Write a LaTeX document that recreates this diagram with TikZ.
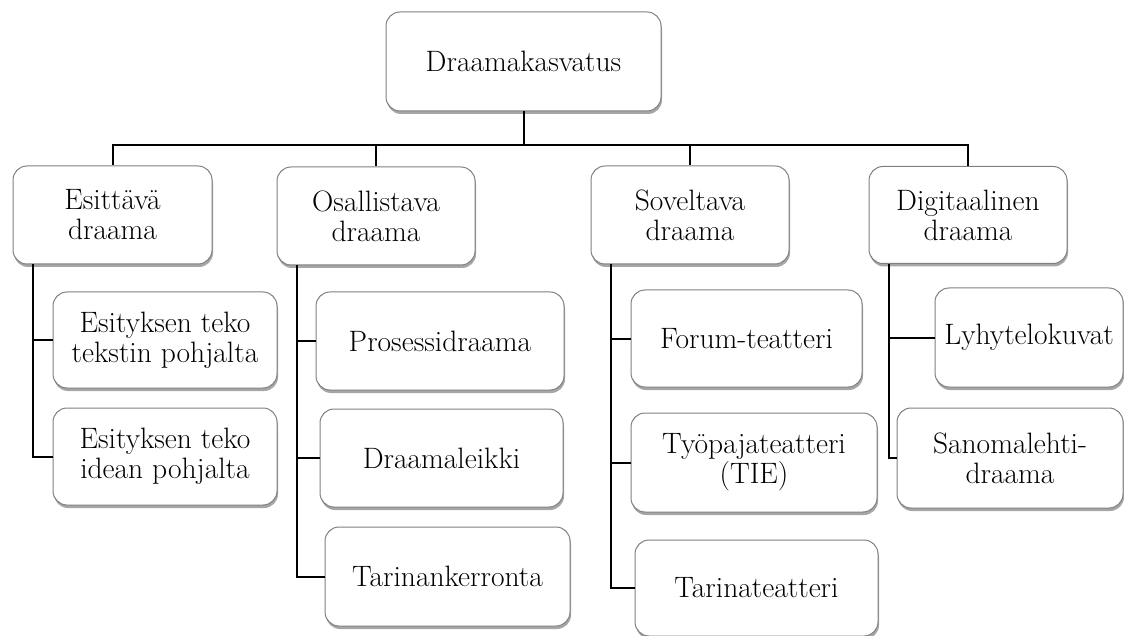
\documentclass[tikz,border=0pt]{standalone}
\usetikzlibrary{shadows}
\tikzset{
  box/.style={draw=black!50, line width=1pt, fill=white, rounded corners=14pt,
    align=center, inner sep=2pt, font=\fontsize{29.5}{30}\selectfont,
    drop shadow={shadow xshift=1pt, shadow yshift=-3pt, fill=black, opacity=0.35}},
  conn/.style={draw=black, line width=2pt}
}
\begin{document}
\begin{tikzpicture}[x=1pt,y=-1pt]
\useasboundingbox (0,0) rectangle (1124,636);
% top
\node[box, minimum width=275pt, minimum height=99pt] (top) at (523.5,61.5) {Draamakasvatus};
% level 2
\node[box, minimum width=199pt, minimum height=98pt] (e) at (112.5,215) {Esittävä\\draama};
\node[box, minimum width=198pt, minimum height=98pt] (o) at (376,216) {Osallistava\\draama};
\node[box, minimum width=198pt, minimum height=98pt] (s) at (690,215) {Soveltava\\draama};
\node[box, minimum width=198pt, minimum height=97pt] (d) at (968,215) {Digitaalinen\\draama};
% children of Esittävä
\node[box, minimum width=224pt, minimum height=96pt] (e1) at (165,340) {Esityksen teko\\tekstin pohjalta};
\node[box, minimum width=224pt, minimum height=97pt] (e2) at (165,456.5) {Esityksen teko\\idean pohjalta};
% children of Osallistava
\node[box, minimum width=248pt, minimum height=98pt] (o1) at (440,341) {Prosessidraama};
\node[box, minimum width=243pt, minimum height=98pt] (o2) at (441.5,458) {Draamaleikki};
\node[box, minimum width=245pt, minimum height=99pt] (o3) at (447.5,576.5) {Tarinankerronta};
% children of Soveltava
\node[box, minimum width=231pt, minimum height=97pt] (s1) at (746.5,338.5) {Forum-teatteri};
\node[box, minimum width=246pt, minimum height=99pt] (s2) at (754,462.5) {Työpajateatteri\\(TIE)};
\node[box, minimum width=243pt, minimum height=96pt] (s3) at (756.5,588) {Tarinateatteri};
% children of Digitaalinen
\node[box, minimum width=188pt, minimum height=99pt] (d1) at (1029,337.5) {Lyhytelokuvat};
\node[box, minimum width=226pt, minimum height=100pt] (d2) at (1010,458) {Sanomalehti-\\draama};
% connectors top
\coordinate (bus) at (523.5,145);
\draw[conn] (top.south) -- (bus);
\draw[conn] (bus) -| (e.north);
\draw[conn] (bus) -| (o.north);
\draw[conn] (bus) -| (s.north);
\draw[conn] (bus) -| (d.north);
% child connectors
\draw[conn] ([xshift=20pt]e.south west) |- (e1.west);
\draw[conn] ([xshift=20pt]e.south west) |- (e2.west);
\draw[conn] ([xshift=20pt]o.south west) |- (o1.west);
\draw[conn] ([xshift=20pt]o.south west) |- (o2.west);
\draw[conn] ([xshift=20pt]o.south west) |- (o3.west);
\draw[conn] ([xshift=20pt]s.south west) |- (s1.west);
\draw[conn] ([xshift=20pt]s.south west) |- (s2.west);
\draw[conn] ([xshift=20pt]s.south west) |- (s3.west);
\draw[conn] ([xshift=20pt]d.south west) |- (d1.west);
\draw[conn] ([xshift=20pt]d.south west) |- (d2.west);
\end{tikzpicture}
\end{document}
